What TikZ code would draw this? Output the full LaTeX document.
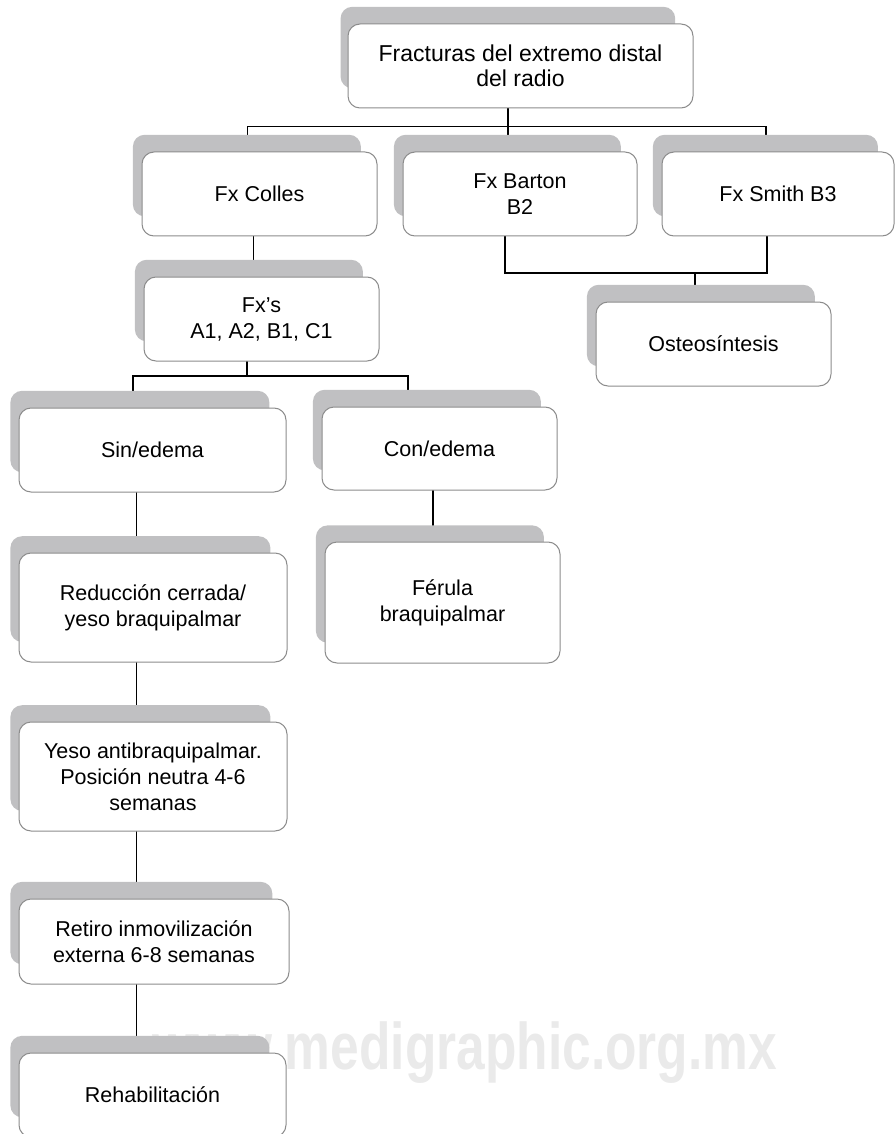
\documentclass[tikz,border=0pt]{standalone}
\usepackage{fontspec}
\setmainfont{Liberation Sans}
\usetikzlibrary{shadows,backgrounds}
\definecolor{sombra}{RGB}{192,192,194}
\definecolor{borde}{RGB}{140,140,140}
\definecolor{marca}{RGB}{234,234,234}
\tikzset{
  caja/.style={draw=borde, line width=0.5pt, rounded corners=6pt, fill=white, align=center, inner sep=2pt,
    font=\fontsize{10.75}{13}\selectfont,
    copy shadow={shadow xshift=-6.5pt, shadow yshift=9.5pt, shadow scale=0.97, fill=sombra, draw=none}},
  linea/.style={line width=0.6pt, black}
}
\begin{document}
\begin{tikzpicture}[x=0.5pt, y=-0.5pt]
        \useasboundingbox (0,0) rectangle (895,1134);
        % Marca de agua
        \node[anchor=base west, inner sep=0, text=marca, font=\fontsize{33}{33}\selectfont\bfseries] (marca) at (152,1069) {\scalebox{0.78}[1]{www.medigraphic.org.mx}};

        % Nivel superior
        \node[caja, minimum width=172.5pt, minimum height=42pt, font=\fontsize{11.5}{12.5}\selectfont] (root) at (520.5,66) {Fracturas del extremo distal\\del radio};
        \node[caja, minimum width=117.5pt, minimum height=42pt] (colles) at (259.5,194) {Fx Colles};
        \node[caja, minimum width=117pt, minimum height=42pt] (barton) at (520,194) {Fx Barton\\B2};
        \node[caja, minimum width=116pt, minimum height=42pt] (smith) at (778,194) {Fx Smith B3};
        \node[caja, minimum width=117.5pt, minimum height=42pt] (osteo) at (713.5,344) {Osteosíntesis};

        % Rama Colles
        \node[caja, minimum width=117.5pt, minimum height=42pt] (fxs) at (261.5,319) {Fx’s\\A1, A2, B1, C1};
        \node[caja, minimum width=133.5pt, minimum height=42pt] (sin) at (152.5,450) {Sin/edema};
        \node[caja, minimum width=117.5pt, minimum height=41.5pt] (con) at (439.5,448.5) {Con/edema};
        \node[caja, minimum width=134pt, minimum height=54.5pt] (red) at (153,607.5) {Reducción cerrada/\\yeso braquipalmar};
        \node[caja, minimum width=117.5pt, minimum height=60.5pt] (ferula) at (442.5,602.5) {Férula\\braquipalmar};
        \node[caja, minimum width=134pt, minimum height=54.5pt] (yeso) at (153,776.5) {Yeso antibraquipalmar.\\Posición neutra 4-6\\semanas};
        \node[caja, minimum width=135pt, minimum height=42.5pt] (retiro) at (154,941.5) {Retiro inmovilización\\externa 6-8 semanas};
        \node[caja, minimum width=133.5pt, minimum height=42pt] (rehab) at (152.5,1095) {Rehabilitación};

        % Conectores (detras de las cajas)
        \coordinate (b2) at (695,273);
        \coordinate (b3) at (247,376);
        \begin{scope}[on background layer]
            \draw[linea] ([xshift=-6.25pt]root.center) -- ([xshift=-6pt]barton.center);
            \draw[linea] ([xshift=-6pt]colles.center) |- ([yshift=-9pt]root.south) -| ([xshift=-6pt]smith.center);
            \draw[linea] ([xshift=-3pt]colles.center) -- ([xshift=-3pt]colles.center |- fxs.center);
            \draw[linea] ([xshift=-7.5pt]barton.center) |- (b2) -| ([xshift=-5.5pt]smith.center);
            \draw[linea] (b2) -- (b2 |- osteo.center);
            \draw[linea] (b3 |- fxs.center) -- (b3);
            \draw[linea] ([xshift=-9.75pt]sin.center) |- (b3) -| ([xshift=-15.75pt]con.center);
            \draw[linea] ([xshift=-8pt]sin.center) -- ([xshift=-8pt]sin.center |- rehab.center);
            \draw[linea] ([xshift=-3.25pt]con.center) -- ([xshift=-3.25pt]con.center |- ferula.center);
        \end{scope}
    \end{tikzpicture}
\end{document}
